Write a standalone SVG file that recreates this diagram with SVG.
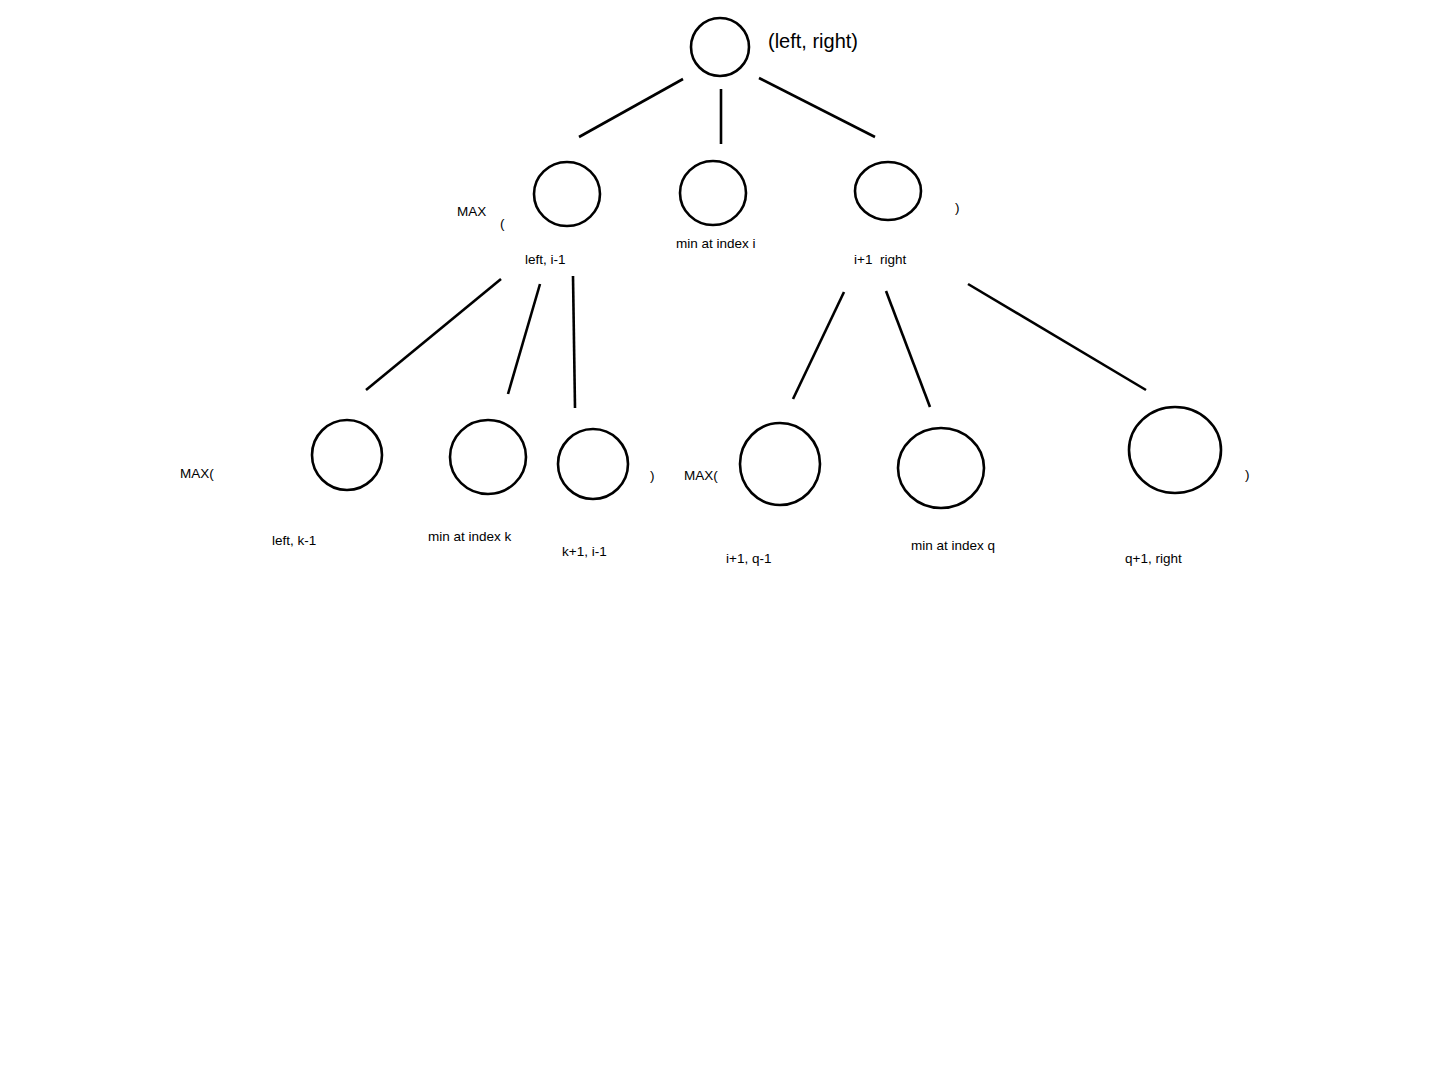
<svg xmlns="http://www.w3.org/2000/svg" width="1445" height="1066" viewBox="0 0 1445 1066">
<style>
.n{fill:none;stroke:#000;stroke-width:2.6}
.c line{stroke:#000;stroke-width:2.6;stroke-linecap:butt}
text{font-family:"Liberation Sans",Arial,sans-serif;font-size:13.5px;fill:#000}
.big{font-size:20px}
</style>
<rect width="1445" height="1066" fill="#fff"/>
<g id="connectors" class="c">
<line x1="683" y1="79" x2="579" y2="137"/>
<line x1="721" y1="89" x2="721" y2="144"/>
<line x1="759" y1="78" x2="875" y2="137"/>
<line x1="501" y1="279" x2="366" y2="390"/>
<line x1="540" y1="284" x2="508" y2="394"/>
<line x1="573" y1="276" x2="575" y2="408"/>
<line x1="844" y1="292" x2="793" y2="399"/>
<line x1="886" y1="291" x2="930" y2="407"/>
<line x1="968" y1="284" x2="1146" y2="390"/>
</g>
<g id="root"><ellipse class="n" cx="720" cy="47" rx="29" ry="29"/><text class="big" x="768" y="48">(left, right)</text></g>
<g id="l1-left"><ellipse class="n" cx="567" cy="194" rx="33" ry="32"/><text x="457" y="216">MAX</text><text x="500" y="228">(</text><text x="525" y="264">left, i-1</text></g>
<g id="l1-mid"><ellipse class="n" cx="713" cy="193" rx="33" ry="32"/><text x="676" y="248">min at index i</text></g>
<g id="l1-right"><ellipse class="n" cx="888" cy="191" rx="33" ry="29"/><text x="955" y="212">)</text><text x="854" y="264" xml:space="preserve">i+1  right</text></g>
<g id="l2-a"><ellipse class="n" cx="347" cy="455" rx="35" ry="35"/><text x="180" y="478">MAX(</text><text x="272" y="545">left, k-1</text></g>
<g id="l2-b"><ellipse class="n" cx="488" cy="457" rx="38" ry="37"/><text x="428" y="541">min at index k</text></g>
<g id="l2-c"><ellipse class="n" cx="593" cy="464" rx="35" ry="35"/><text x="650" y="480">)</text><text x="562" y="556">k+1, i-1</text></g>
<g id="l2-d"><ellipse class="n" cx="780" cy="464" rx="40" ry="41"/><text x="684" y="480">MAX(</text><text x="726" y="563">i+1, q-1</text></g>
<g id="l2-e"><ellipse class="n" cx="941" cy="468" rx="43" ry="40"/><text x="911" y="550">min at index q</text></g>
<g id="l2-f"><ellipse class="n" cx="1175" cy="450" rx="46" ry="43"/><text x="1245" y="479">)</text><text x="1125" y="563">q+1, right</text></g>
</svg>
